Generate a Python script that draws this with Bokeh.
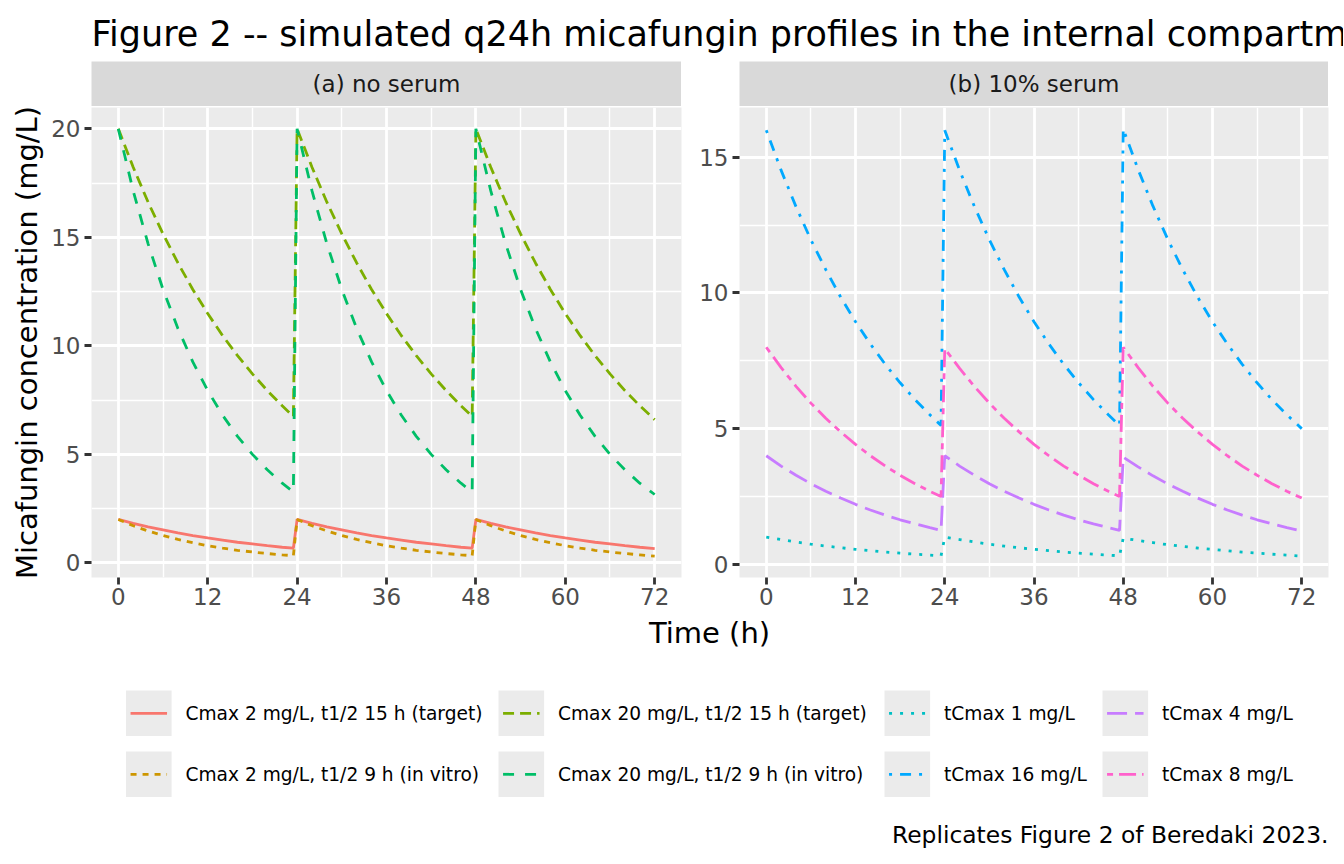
from bokeh.plotting import figure
from bokeh.layouts import column, row
from bokeh.models import Range1d, FixedTicker, Label, Spacer
from bokeh.embed import file_html
from bokeh.resources import INLINE

FONT = "DejaVu Sans"

# ---------------- data ----------------
time_h = [0, 2, 4, 6, 8, 10, 12, 14, 16, 18, 20, 22, 23.5,
          24, 26, 28, 30, 32, 34, 36, 38, 40, 42, 44, 46, 47.5,
          48, 50, 52, 54, 56, 58, 60, 62, 64, 66, 68, 70, 72]

cmax2_t15 = [2.00, 1.82, 1.66, 1.52, 1.38, 1.26, 1.15, 1.05, 0.95, 0.87, 0.79, 0.72, 0.68,
             2.00, 1.82, 1.66, 1.52, 1.38, 1.26, 1.15, 1.05, 0.95, 0.87, 0.79, 0.72, 0.68,
             2.00, 1.82, 1.66, 1.52, 1.38, 1.26, 1.15, 1.05, 0.95, 0.87, 0.79, 0.72, 0.66]
cmax2_t9 = [2.00, 1.71, 1.47, 1.26, 1.08, 0.93, 0.79, 0.68, 0.58, 0.50, 0.43, 0.37, 0.33,
            2.00, 1.71, 1.47, 1.26, 1.08, 0.93, 0.79, 0.68, 0.58, 0.50, 0.43, 0.37, 0.33,
            2.00, 1.71, 1.47, 1.26, 1.08, 0.93, 0.79, 0.68, 0.58, 0.50, 0.43, 0.37, 0.31]
cmax20_t15 = [20.00, 18.23, 16.62, 15.16, 13.82, 12.60, 11.49, 10.47, 9.55, 8.71, 7.94, 7.24, 6.75,
              20.00, 18.23, 16.62, 15.16, 13.82, 12.60, 11.49, 10.47, 9.55, 8.71, 7.94, 7.24, 6.75,
              20.00, 18.23, 16.62, 15.16, 13.82, 12.60, 11.49, 10.47, 9.55, 8.71, 7.94, 7.24, 6.60]
cmax20_t9 = [20.00, 17.14, 14.70, 12.60, 10.80, 9.26, 7.94, 6.80, 5.83, 5.00, 4.29, 3.67, 3.27,
             20.00, 17.14, 14.70, 12.60, 10.80, 9.26, 7.94, 6.80, 5.83, 5.00, 4.29, 3.67, 3.27,
             20.00, 17.14, 14.70, 12.60, 10.80, 9.26, 7.94, 6.80, 5.83, 5.00, 4.29, 3.67, 3.15]

tcmax1 = [1.00, 0.91, 0.82, 0.74, 0.67, 0.61, 0.55, 0.50, 0.45, 0.41, 0.37, 0.34, 0.31,
          1.00, 0.91, 0.82, 0.74, 0.67, 0.61, 0.55, 0.50, 0.45, 0.41, 0.37, 0.34, 0.31,
          0.96, 0.88, 0.80, 0.72, 0.66, 0.60, 0.55, 0.50, 0.45, 0.41, 0.37, 0.34, 0.30]
tcmax16 = [16.00, 14.52, 13.18, 11.96, 10.86, 9.85, 8.94, 8.12, 7.37, 6.69, 6.07, 5.51, 5.12,
           16.00, 14.52, 13.18, 11.96, 10.86, 9.85, 8.94, 8.12, 7.37, 6.69, 6.07, 5.51, 5.12,
           16.05, 14.55, 13.20, 11.97, 10.86, 9.85, 8.94, 8.12, 7.37, 6.69, 6.07, 5.51, 5.00]
tcmax4 = [4.00, 3.62, 3.28, 2.97, 2.69, 2.44, 2.21, 2.00, 1.81, 1.64, 1.49, 1.35, 1.25,
          4.00, 3.62, 3.28, 2.97, 2.69, 2.44, 2.21, 2.00, 1.81, 1.64, 1.49, 1.35, 1.25,
          3.95, 3.59, 3.26, 2.96, 2.69, 2.44, 2.21, 2.00, 1.81, 1.64, 1.49, 1.35, 1.22]
tcmax8 = [8.00, 7.25, 6.56, 5.94, 5.38, 4.88, 4.42, 4.00, 3.62, 3.28, 2.97, 2.69, 2.50,
          7.95, 7.22, 6.55, 5.94, 5.38, 4.88, 4.42, 4.00, 3.62, 3.28, 2.97, 2.69, 2.50,
          8.00, 7.25, 6.56, 5.94, 5.38, 4.88, 4.42, 4.00, 3.62, 3.28, 2.97, 2.69, 2.44]

names_a = ["Cmax 2 mg/L, t1/2 15 h (target)", "Cmax 2 mg/L, t1/2 9 h (in vitro)",
           "Cmax 20 mg/L, t1/2 15 h (target)", "Cmax 20 mg/L, t1/2 9 h (in vitro)"]
series_a = [cmax2_t15, cmax2_t9, cmax20_t15, cmax20_t9]
colors_a = ["#F8766D", "#CD9600", "#7CAE00", "#00BE67"]
dash_a = ["solid", "6 6", "11 6", "11 11"]

names_b = ["tCmax 1 mg/L", "tCmax 16 mg/L", "tCmax 4 mg/L", "tCmax 8 mg/L"]
series_b = [tcmax1, tcmax16, tcmax4, tcmax8]
colors_b = ["#00BFC4", "#00A9FF", "#C77CFF", "#FF61CC"]
dash_b = ["3 8", "3 8 11 8", "20 8", "6 6 17 6"]

x_ticks = [0, 12, 24, 36, 48, 60, 72]
y_ticks_a = [0, 5, 10, 15, 20]
y_ticks_b = [0, 5, 10, 15]

title_text = "Figure 2 -- simulated q24h micafungin profiles in the internal compartment"
strip_a = "(a) no serum"
strip_b = "(b) 10% serum"
x_title = "Time (h)"
y_title = "Micafungin concentration (mg/L)"
caption = "Replicates Figure 2 of Beredaki 2023."

PANEL_BG = "#EBEBEB"
STRIP_BG = "#D9D9D9"
LW = 2.8
O = 1          # screen position of the page origin
W = 1336       # width of the main rows
BL = 8         # correction for alphabetic baselines


def minor_between(ticks, lo, hi):
    step = ticks[1] - ticks[0]
    cand = [ticks[0] - step / 2] + [t + step / 2 for t in ticks]
    return [m for m in cand if lo < m < hi]


def make_panel(series, colors, dashes, yticks, width, left, right, ylabel=None):
    allv = [v for s in series for v in s]
    y0, y1 = min(allv), max(allv)
    ypad = 0.05 * (y1 - y0)
    x0, x1 = min(time_h), max(time_h)
    xpad = 0.05 * (x1 - x0)
    xr = Range1d(x0 - xpad, x1 + xpad)
    yr = Range1d(y0 - ypad, y1 + ypad)
    p = figure(width=width, height=511, x_range=xr, y_range=yr,
               output_backend="svg", toolbar_location=None, tools="",
               min_border_left=left, min_border_right=right,
               min_border_top=1, min_border_bottom=40)
    p.background_fill_color = PANEL_BG
    p.border_fill_color = "white"
    p.outline_line_color = None
    for s, c, d in zip(series, colors, dashes):
        p.line(time_h, s, line_color=c, line_width=LW, line_dash=d)
    p.xaxis.ticker = FixedTicker(ticks=x_ticks,
                                 minor_ticks=minor_between(x_ticks, xr.start, xr.end))
    p.yaxis.ticker = FixedTicker(ticks=yticks,
                                 minor_ticks=minor_between(yticks, yr.start, yr.end))
    for ax in (p.xaxis[0], p.yaxis[0]):
        ax.axis_line_color = None
        ax.major_tick_line_color = "#333333"
        ax.major_tick_line_width = LW
        ax.major_tick_out = 7
        ax.major_tick_in = 0
        ax.minor_tick_line_color = None
        ax.major_label_text_font = FONT
        ax.major_label_text_font_size = "23px"
        ax.major_label_text_color = "#4D4D4D"
    p.xaxis.major_label_standoff = 3
    p.yaxis.major_label_standoff = 4
    for g in (p.xgrid[0], p.ygrid[0]):
        g.grid_line_color = "white"
        g.grid_line_width = LW
        g.minor_grid_line_color = "white"
        g.minor_grid_line_width = 1.4
    if ylabel:
        p.yaxis.axis_label = ylabel
        p.yaxis.axis_label_text_font = FONT
        p.yaxis.axis_label_text_font_size = "29px"
        p.yaxis.axis_label_text_font_style = "normal"
        p.yaxis.axis_label_text_color = "black"
        p.yaxis.axis_label_standoff = 4
    return p


def blank(width, height, x0, x1, y_top, y_bot, bg="white"):
    f = figure(width=width, height=height, x_range=Range1d(x0, x1),
               y_range=Range1d(y_bot, y_top), x_axis_type=None, y_axis_type=None,
               output_backend="svg", toolbar_location=None, tools="",
               min_border_left=0, min_border_right=0, min_border_top=0, min_border_bottom=0)
    f.background_fill_color = bg
    f.border_fill_color = bg
    f.outline_line_color = None
    f.grid.visible = False
    return f


def make_strip(text, width):
    s = blank(width, 45, 0, 1, 1, 0, bg=STRIP_BG)
    s.add_layout(Label(x=0.5, y=0.5, text=text, text_align="center",
                       text_baseline="middle", text_font=FONT,
                       text_font_size="23px", text_color="#1A1A1A"))
    return s


# ---------------- title ----------------
TW = 1343
tfig = blank(TW, 62 - O, O, O + TW, O, 62)
tfig.add_layout(Label(x=92, y=42 - BL, text=title_text, text_align="left",
                      text_baseline="alphabetic", text_font=FONT,
                      text_font_size="35px", text_color="black"))

# ---------------- strips ----------------
strips = row(Spacer(width=92 - O, height=45), make_strip(strip_a, 590),
             Spacer(width=58, height=45), make_strip(strip_b, 589),
             Spacer(width=W - (92 - O) - 590 - 58 - 589, height=45))

# ---------------- panels ----------------
pa = make_panel(series_a, colors_a, dash_a, y_ticks_a, 690 - O, 92 - O, 8, y_title)
pb = make_panel(series_b, colors_b, dash_b, y_ticks_b, W - (690 - O), 50, W - (690 - O) - 50 - 589)
panels = row(pa, pb)

# ---------------- bottom: x title, legend, caption ----------------
bot = blank(W, 238, O, O + W, 618, 856)
bot.add_layout(Label(x=710, y=641 - BL, text=x_title, text_align="center",
                     text_baseline="alphabetic", text_font=FONT,
                     text_font_size="29px", text_color="black"))

leg_names = names_a + names_b
leg_colors = colors_a + colors_b
leg_dash = dash_a + dash_b
col_left = [126.5, 499, 885, 1103]
row_top = [691, 752]
KEY = 45.6
for i, (nm, c, d) in enumerate(zip(leg_names, leg_colors, leg_dash)):
    kx = col_left[i // 2]
    ky = row_top[i % 2]
    cy = ky + KEY / 2
    bot.quad(left=kx, right=kx + KEY, top=ky, bottom=ky + KEY,
             fill_color=PANEL_BG, line_color=None)
    bot.line([kx + 0.1 * KEY, kx + 0.9 * KEY], [cy, cy], line_color=c,
             line_width=LW, line_dash=d)
    bot.add_layout(Label(x=kx + 59.5, y=cy, text=nm, text_align="left",
                         text_baseline="middle", text_font=FONT,
                         text_font_size="18.6px", text_color="black"))

bot.add_layout(Label(x=1329, y=843 - BL, text=caption, text_align="right",
                     text_baseline="alphabetic", text_font=FONT,
                     text_font_size="23.4px", text_color="black"))

layout = column(tfig, strips, panels, bot)
open("out.html", "w").write(file_html(layout, INLINE))
